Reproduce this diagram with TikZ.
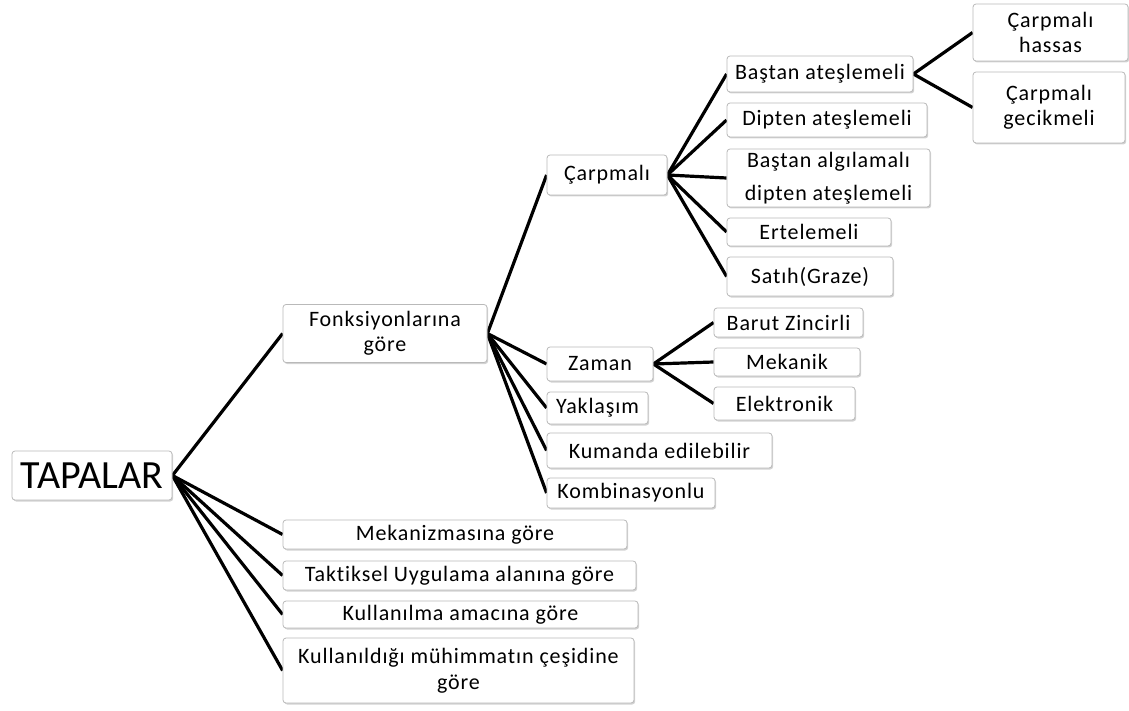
\documentclass[tikz,border=0pt]{standalone}
\usepackage{fontspec}
\setmainfont{Carlito}
\newfontfamily\spaced[LetterSpace=4,Ligatures=NoCommon]{Carlito}
\usetikzlibrary{shadows,backgrounds}
\tikzset{
  box/.style={draw=gray!55, line width=0.8pt, rounded corners=3pt, fill=white,
    drop shadow={shadow xshift=1.2pt, shadow yshift=-1.5pt, opacity=0.35, fill=gray},
    inner sep=0pt, align=center, text=black,
    font=\spaced\fontsize{22}{25.5}\selectfont},
  conn/.style={line width=3.2pt, black},
}
\newcommand{\bx}[6]{\node[box, minimum width=#4pt, minimum height=#5pt] (#1) at (#2,#3) {#6};}
\begin{document}
\begin{tikzpicture}[x=1pt,y=-1pt]
\useasboundingbox (0,0) rectangle (1129,711);
\node[box, minimum width=160pt, minimum height=49pt, font=\fontsize{40}{42}\selectfont] (tap) at (92,475.5) {TAPALAR};
\bx{fonk}{385}{333.5}{204}{58}{Fonksiyonlarına\\göre}
\bx{mek}{455}{534.5}{344}{29}{Mekanizmasına göre}
\bx{tak}{459.5}{575.5}{353}{29}{Taktiksel Uygulama alanına göre}
\bx{kul}{460.5}{614.5}{355}{27}{Kullanılma amacına göre}
\bx{kuld}{458.5}{670.5}{351}{65}{Kullanıldığı mühimmatın çeşidine\\göre}
\bx{carp}{607}{175}{120}{40}{Çarpmalı}
\bx{bas}{820}{74}{186}{36}{Baştan ateşlemeli}
\bx{dip}{827}{120}{200}{34}{Dipten ateşlemeli}
\bx{basalg}{828.5}{178}{203}{58}{Baştan algılamalı\\[7pt]dipten ateşlemeli}
\bx{ert}{809}{232}{164}{28}{Ertelemeli}
\bx{sat}{810}{276.5}{166}{39}{Satıh(Graze)}
\bx{ch}{1050.5}{32.5}{155}{57}{Çarpmalı\\hassas}
\bx{cg}{1049}{107.5}{152}{71}{Çarpmalı\\gecikmeli}
\bx{zam}{600}{364}{106}{34}{Zaman}
\bx{yak}{597.5}{408}{101}{32}{Yaklaşım}
\bx{kum}{659.5}{450.5}{225}{35}{Kumanda edilebilir}
\bx{kom}{631}{493}{168}{30}{Kombinasyonlu}
\bx{bar}{788.5}{322.5}{149}{29}{Barut Zincirli}
\bx{mkn}{787}{362}{146}{28}{Mekanik}
\bx{ele}{784.5}{403.5}{141}{33}{Elektronik}
\begin{pgfonlayer}{background}
\foreach \c in {fonk,mek,tak,kul,kuld} \draw[conn] (tap.east) -- (\c.west);
\foreach \c in {carp,zam,yak,kum,kom} \draw[conn] (fonk.east) -- (\c.west);
\foreach \c in {bas,dip,basalg,ert,sat} \draw[conn] (carp.east) -- (\c.west);
\foreach \c in {ch,cg} \draw[conn] (bas.east) -- (\c.west);
\foreach \c in {bar,mkn,ele} \draw[conn] (zam.east) -- (\c.west);
\end{pgfonlayer}
\end{tikzpicture}
\end{document}
